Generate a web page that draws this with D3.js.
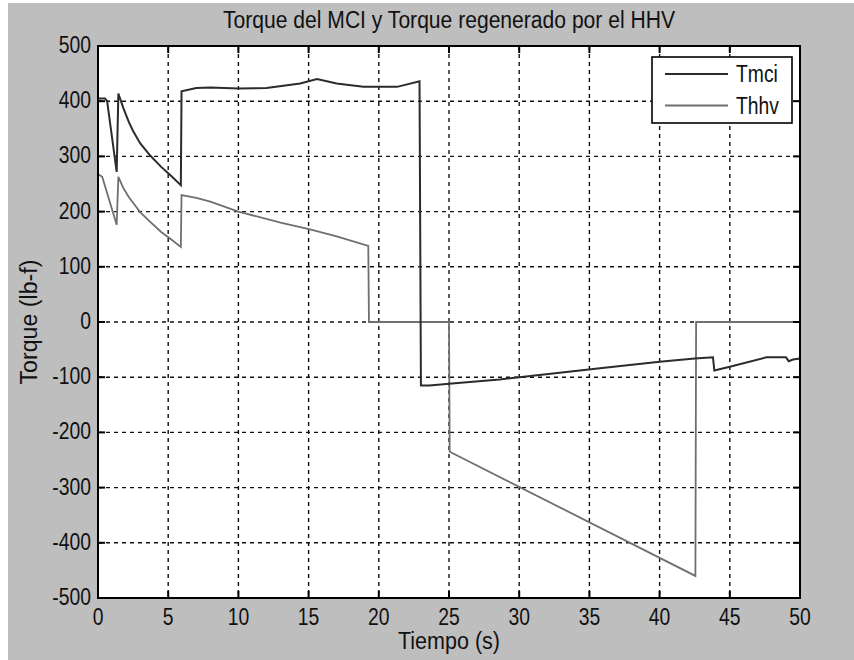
<!DOCTYPE html>
<html>
<head>
<meta charset="utf-8">
<script src="https://cdn.jsdelivr.net/npm/d3@7"></script>
<style>
  body { margin: 0; background: #fff; }
  text { font-family: "Liberation Sans", Arial, sans-serif; fill: #111; }
</style>
</head>
<body>
<div id="chart"></div>
<script>
const title = "Torque del MCI y Torque regenerado por el HHV";
const xLabel = "Tiempo (s)";
const yLabel = "Torque (lb-f)";
const xTicks = [0, 5, 10, 15, 20, 25, 30, 35, 40, 45, 50];
const yTicks = [-500, -400, -300, -200, -100, 0, 100, 200, 300, 400, 500];
const seriesNames = ["Tmci", "Thhv"];

// Tmci (dark line)
const tmciTime = [0, 0.5, 0.65, 1.33, 1.45, 1.8, 2.2, 2.5, 3, 3.7, 4.5, 5.2, 5.9, 5.95, 7, 8, 10, 12, 14.4, 15.6, 17, 18.9, 21.3, 22.9, 23.0, 23.6, 25, 28.6, 30, 35.75, 40, 42.5, 43.8, 43.9, 45, 47.6, 49, 49.2, 49.5, 50];
const tmciVal = [405, 405, 400, 272, 414, 388, 362, 346, 324, 302, 281, 265, 248, 418, 424, 425, 423, 424, 432, 440, 432, 426, 426, 436, -115, -115, -112, -104, -100, -84, -72, -66, -64, -88, -81, -64, -64, -71, -68, -66];

// Thhv (grey line)
const thhvTime = [0, 0.3, 1.33, 1.45, 1.8, 2.2, 2.5, 3, 3.7, 4.5, 5.2, 5.9, 5.95, 7, 8, 10, 13, 15.1, 17, 19.25, 19.3, 25, 25.05, 42.55, 42.6, 50];
const thhvVal = [268, 263, 176, 263, 243, 226, 216, 199, 182, 163, 150, 136, 230, 225, 218, 200, 180, 168, 155, 138, 0, 0, -235, -460, 0, 0];

const W = 854, H = 660;
const plot = { left: 98, right: 800, top: 46, bottom: 598 };

const svg = d3.select("#chart").append("svg")
  .attr("width", W).attr("height", H);

svg.append("rect").attr("width", W).attr("height", H).attr("fill", "#fff");
svg.append("rect").attr("x", 8).attr("y", 3)
  .attr("width", W - 8).attr("height", H - 3).attr("fill", "#bebebe");

const x = d3.scaleLinear().domain([0, 50]).range([plot.left, plot.right]);
const y = d3.scaleLinear().domain([-500, 500]).range([plot.bottom, plot.top]);

svg.append("rect")
  .attr("x", plot.left).attr("y", plot.top)
  .attr("width", plot.right - plot.left).attr("height", plot.bottom - plot.top)
  .attr("fill", "#fff");

// squeeze text horizontally like the narrow original font
function squeeze(sel, f) {
  sel.each(function () {
    const w = this.getComputedTextLength();
    d3.select(this).attr("textLength", w * f).attr("lengthAdjust", "spacingAndGlyphs");
  });
}

// grid
const grid = svg.append("g")
  .attr("stroke", "#111").attr("stroke-width", 1.4).attr("stroke-dasharray", "4,4");
grid.selectAll(".gx").data(xTicks.slice(1, -1)).join("line")
  .attr("x1", d => x(d)).attr("x2", d => x(d))
  .attr("y1", plot.top).attr("y2", plot.bottom);
grid.selectAll(".gy").data(yTicks.slice(1, -1)).join("line")
  .attr("y1", d => y(d)).attr("y2", d => y(d))
  .attr("x1", plot.left).attr("x2", plot.right);

// series
const line = d3.line().x(d => x(d[0])).y(d => y(d[1]));
svg.append("clipPath").attr("id", "clip").append("rect")
  .attr("x", plot.left).attr("y", plot.top)
  .attr("width", plot.right - plot.left).attr("height", plot.bottom - plot.top);

svg.append("path")
  .datum(d3.zip(thhvTime, thhvVal))
  .attr("d", line).attr("fill", "none")
  .attr("stroke", "#6f6f6f").attr("stroke-width", 1.8)
  .attr("clip-path", "url(#clip)");
svg.append("path")
  .datum(d3.zip(tmciTime, tmciVal))
  .attr("d", line).attr("fill", "none")
  .attr("stroke", "#2b2b2b").attr("stroke-width", 2)
  .attr("clip-path", "url(#clip)");

// box and ticks
const tickLen = 7;
const axisG = svg.append("g").attr("stroke", "#000").attr("stroke-width", 2);
axisG.append("rect")
  .attr("x", plot.left).attr("y", plot.top)
  .attr("width", plot.right - plot.left).attr("height", plot.bottom - plot.top)
  .attr("fill", "none");
xTicks.forEach(t => {
  axisG.append("line").attr("x1", x(t)).attr("x2", x(t))
    .attr("y1", plot.bottom).attr("y2", plot.bottom - tickLen);
  axisG.append("line").attr("x1", x(t)).attr("x2", x(t))
    .attr("y1", plot.top).attr("y2", plot.top + tickLen);
});
yTicks.forEach(t => {
  axisG.append("line").attr("y1", y(t)).attr("y2", y(t))
    .attr("x1", plot.left).attr("x2", plot.left + tickLen);
  axisG.append("line").attr("y1", y(t)).attr("y2", y(t))
    .attr("x1", plot.right).attr("x2", plot.right - tickLen);
});

// tick labels
svg.append("g").selectAll("text").data(xTicks).join("text")
  .attr("x", d => x(d)).attr("y", 625)
  .attr("text-anchor", "middle").style("font-size", "23px")
  .text(d => d).call(squeeze, 0.84);
svg.append("g").selectAll("text").data(yTicks).join("text")
  .attr("x", 91).attr("y", d => y(d) + 7)
  .attr("text-anchor", "end").style("font-size", "23px")
  .text(d => d).call(squeeze, 0.84);

// title and axis labels
svg.append("text").attr("x", 449).attr("y", 28)
  .attr("text-anchor", "middle").style("font-size", "23px")
  .attr("textLength", 452).attr("lengthAdjust", "spacingAndGlyphs")
  .text(title);
svg.append("text").attr("x", 449).attr("y", 649)
  .attr("text-anchor", "middle").style("font-size", "23px")
  .attr("textLength", 102).attr("lengthAdjust", "spacingAndGlyphs")
  .text(xLabel);
svg.append("text")
  .attr("transform", `translate(37, ${(plot.top + plot.bottom) / 2}) rotate(-90)`)
  .attr("text-anchor", "middle").style("font-size", "23px")
  .attr("textLength", 125).attr("lengthAdjust", "spacingAndGlyphs")
  .text(yLabel);

// legend
const legend = svg.append("g");
legend.append("rect")
  .attr("x", 652).attr("y", 57).attr("width", 140).attr("height", 66)
  .attr("fill", "#fff").attr("stroke", "#000").attr("stroke-width", 1.6);
const legendColors = ["#2b2b2b", "#6f6f6f"];
seriesNames.forEach((name, i) => {
  const ly = 74 + i * 31.5;
  legend.append("line")
    .attr("x1", 665).attr("x2", 728).attr("y1", ly).attr("y2", ly)
    .attr("stroke", legendColors[i]).attr("stroke-width", 2);
  legend.append("text").attr("x", 736).attr("y", ly + 8)
    .style("font-size", "23px").text(name).call(squeeze, 0.84);
});
</script>
</body>
</html>
